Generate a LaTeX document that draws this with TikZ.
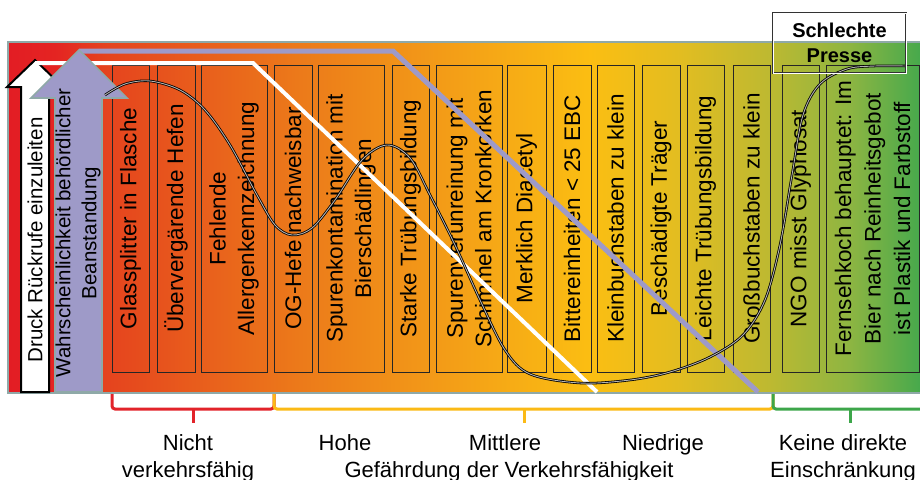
\documentclass[tikz,border=0pt]{standalone}
\usepackage{fontspec}
\setmainfont{Liberation Sans}
\definecolor{frameC}{HTML}{8FA9A8}
\definecolor{lav}{HTML}{9E9AC8}
\definecolor{g0}{HTML}{E31D24}
\definecolor{g1}{HTML}{E42422}
\definecolor{g2}{HTML}{E5431E}
\definecolor{g3}{HTML}{EC7A1A}
\definecolor{g4}{HTML}{F4A017}
\definecolor{g5}{HTML}{FBBE12}
\definecolor{g6}{HTML}{E2BD21}
\definecolor{g7}{HTML}{BDB931}
\definecolor{g8}{HTML}{8DB542}
\definecolor{g9}{HTML}{41A84D}
\definecolor{bred}{HTML}{E2232A}
\definecolor{byel}{HTML}{FBBA16}
\definecolor{bgreen}{HTML}{3DA64A}
\newcommand\colfont{\fontsize{22.5}{28.5}\selectfont}
\newcommand\arrfont{\fontsize{20.5}{26}\selectfont}
\newcommand\labfont{\fontsize{22}{27}\selectfont}
\tikzset{
  colbox/.style={draw=black!85, line width=0.8pt, rotate=90, minimum width=307pt,
    inner sep=0pt, align=center, font=\colfont},
  brace/.style={line width=3pt, rounded corners=3pt},
  wave/.style={draw=black, line width=0.8pt, double=black!30, double distance=0.9pt},
  lab/.style={font=\labfont, anchor=base, align=center, inner sep=0pt}
}
\begin{document}
\begin{tikzpicture}[x=1pt,y=-1pt]
\useasboundingbox (0,0) rectangle (920,479);
\fill[white] (0,0) rectangle (920,479);
% gradient
\shade[left color=g0,right color=g1] (8,42) rectangle (55.3,393);
\shade[left color=g1,right color=g2] (55,42) rectangle (105.3,393);
\shade[left color=g2,right color=g3] (105,42) rectangle (300.3,393);
\shade[left color=g3,right color=g4] (300,42) rectangle (460.3,393);
\shade[left color=g4,right color=g5] (460,42) rectangle (590.3,393);
\shade[left color=g5,right color=g6] (590,42) rectangle (680.3,393);
\shade[left color=g6,right color=g7] (680,42) rectangle (770.3,393);
\shade[left color=g7,right color=g8] (770,42) rectangle (850.3,393);
\shade[left color=g8,right color=g9] (850,42) rectangle (926,393);
\draw[frameC, line width=2pt] (8,42) rectangle (926,393);
% columns
\node[colbox, minimum height=37pt] (c1) at (130.5,218.5) {Glassplitter in Flasche};
\node[colbox, minimum height=38pt] (c2) at (176,218.5) {Übervergärende Hefen};
\node[colbox, minimum height=66pt] (c3) at (234,218.5) {Fehlende\\Allergenkennzeichnung};
\node[colbox, minimum height=38pt] (c4) at (293,218.5) {OG-Hefe nachweisbar};
\node[colbox, minimum height=66pt] (c5) at (351,218.5) {Spurenkontamination mit\\Bierschädlingen};
\node[colbox, minimum height=37pt] (c6) at (410.5,218.5) {Starke Trübungsbildung};
\node[colbox, minimum height=66pt] (c7) at (469,218.5) {Spurenverunreinung mit\\Schimmel am Kronkorken};
\node[colbox, minimum height=39pt] (c8) at (526.5,218.5) {Merklich Diacetyl};
\node[colbox, minimum height=38pt] (c9) at (572,218.5) {Bittereinheiten < 25 EBC};
\node[colbox, minimum height=37pt] (c10) at (615.5,218.5) {Kleinbuchstaben zu klein};
\node[colbox, minimum height=38pt] (c11) at (661,218.5) {Beschädigte Träger};
\node[colbox, minimum height=37pt] (c12) at (705.5,218.5) {Leichte Trübungsbildung};
\node[colbox, minimum height=37pt] (c13) at (751.5,218.5) {Großbuchstaben zu klein};
\node[colbox, minimum height=37pt] (c14) at (800.5,218.5) {NGO misst Glyphosat};
\node[colbox, minimum height=93pt, font=\fontsize{22.5}{29.5}\selectfont] (c15) at (872.5,218.5) {Fernsehkoch behauptet: Im\\Bier nach Reinheitsgebot\\ist Plastik und Farbstoff};
% white arrow
\draw[black, fill=white, line width=2pt, line join=miter] (21,392) -- (21,87) -- (7,87) -- (35,60) -- (63,87) -- (49,87) -- (49,392) -- cycle;
\coordinate (wl1) at (35,63);
\coordinate (wl2) at (253,63);
\coordinate (wl3) at (597,392);
\draw[white, line width=4pt] (wl1) -- (wl2) -- (wl3);
\coordinate (ll1) at (79,51);
\coordinate (ll2) at (393,51);
\coordinate (ll3) at (758,392);
\draw[lav, line width=5pt] (ll1) -- (ll2) -- (ll3);
% lavender arrow
\draw[frameC, fill=lav, line width=1.6pt, line join=miter] (55,392) -- (55,98) -- (31,98) -- (79,50) -- (127,98) -- (102,98) -- (102,392) -- cycle;
\node[rotate=90, font=\arrfont, inner sep=0pt] (t1) at (35,240) {Druck Rückrufe einzuleiten};
\node[rotate=90, font=\arrfont, align=center, inner sep=0pt] (t2) at (78,233) {Wahrscheinlichkeit behördlicher\\Beanstandung};
% wave
\draw[wave] plot[smooth, tension=0.55] coordinates {(105,95) (125,84) (150,81) (180,90) (205,110) (230,145) (257,195) (275,225) (292,235) (312,228) (335,200) (362,160) (387,145) (410,158) (430,195) (455,245) (480,300) (505,350) (530,374) (580,383) (630,380) (670,372) (710,357) (743,335) (765,300) (780,245) (792,175) (803,115) (820,84) (847,69) (875,66) (905,66)};
% Schlechte Presse
\node[draw=black!80, line width=0.7pt, double=white, double distance=0.9pt,
  minimum width=133pt, minimum height=60pt, inner sep=0pt, align=center,
  font=\fontsize{20}{24.5}\selectfont\bfseries] (sp) at (839.5,43) {Schlechte\\Presse};
% braces
\draw[brace, bred] (112,394) -- (112,409) -- (274,409) -- (274,394);
\draw[brace, bred] (193,409) -- (193,423);
\draw[brace, byel] (274,394) -- (274,409) -- (773,409) -- (773,394);
\draw[brace, byel] (524,409) -- (524,423);
\draw[brace, bgreen] (773,394) -- (773,409) -- (935,409);
\draw[brace, bgreen] (850,409) -- (850,423);
% labels
\node[lab] (l1) at (188,450) {Nicht};
\node[lab] (l1b) at (188,477) {verkehrsfähig};
\node[lab] (l2) at (345,450) {Hohe};
\node[lab] (l3) at (505,450) {Mittlere};
\node[lab] (l4) at (663,450) {Niedrige};
\node[lab] (l5) at (843,450) {Keine direkte};
\node[lab] (l5b) at (843,477) {Einschränkung};
\node[lab] (l6) at (509,477) {Gefährdung der Verkehrsfähigkeit};
\end{tikzpicture}
\end{document}
